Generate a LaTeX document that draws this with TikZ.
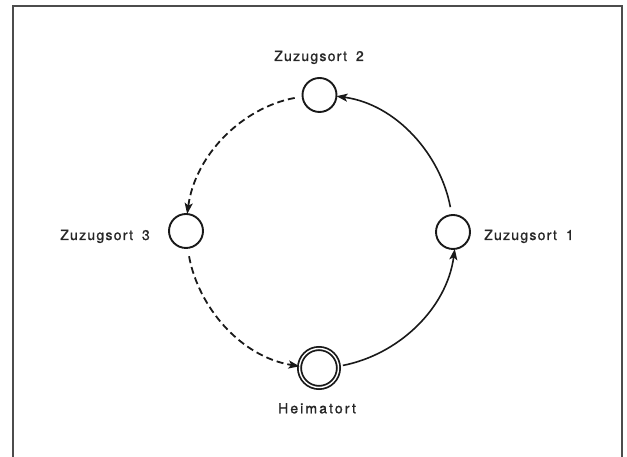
\documentclass[tikz,border=0pt]{standalone}
\usepackage{fontspec}
\setmainfont{TeX Gyre Heros}
\newfontfamily\labfont[LetterSpace=9,FakeBold=1.2]{TeX Gyre Heros}
\newfontfamily\labfontH[LetterSpace=15,FakeBold=1.2]{TeX Gyre Heros}
\usetikzlibrary{arrows.meta}
\begin{document}
\begin{tikzpicture}[x=1pt,y=1pt,
  place/.style={circle,draw=black!90,line width=1.9pt,minimum size=34pt,inner sep=0pt,outer sep=0pt},
  home/.style={circle,draw=black!90,line width=1.8pt,double=white,double distance=1.4pt,minimum size=39pt,inner sep=0pt,outer sep=0pt},
  lab/.style={inner sep=0pt,text=black!85,font=\labfont\fontsize{14}{16}\selectfont},
  labH/.style={inner sep=0pt,text=black!85,font=\labfontH\fontsize{14}{16}\selectfont},
  move/.style={line width=1.6pt,draw=black!90,-{Stealth[length=11pt,width=8pt,inset=2.5pt]},looseness=0.94},
  moved/.style={move,line width=1.8pt,dash pattern=on 7pt off 4pt}
]
\useasboundingbox (0,0) rectangle (627,457);
\begin{scope}
\clip (0,0) rectangle (627,457);
\draw[line width=1.6pt,black!70] (13,-10) -- (13,451) -- (622,451) -- (622,-10);
\end{scope}

\node[place] (z2) at (319.5,362) {};
\node[place] (z1) at (453,225) {};
\node[place] (z3) at (186,226) {};
\node[home]  (h)  at (319,89) {};

\node[lab,anchor=base] (l2) at (319,396) {Zuzugsort\hspace{9pt}2};
\node[lab,anchor=base east] (l3) at (150,217) {Zuzugsort\hspace{9pt}3};
\node[lab,anchor=base west] (l1) at (484,217) {Zuzugsort\hspace{9pt}1};
\node[labH,anchor=base] (lh) at (317,43.7) {Heimatort};

\draw[move,shorten <=4.5pt] (h.5) to[out=11,in=-97.7] (z1.-84);
\draw[move,shorten <=8pt] (z1.94) to[out=100.5,in=-7.7] (z2.-4);
\draw[moved,shorten <=8pt] (z2.185) to[out=190.5,in=82.3] (z3.86);
\draw[moved,shorten <=8.5pt] (z3.-85) to[out=280.5,in=170.8] (h.175);
\end{tikzpicture}
\end{document}
